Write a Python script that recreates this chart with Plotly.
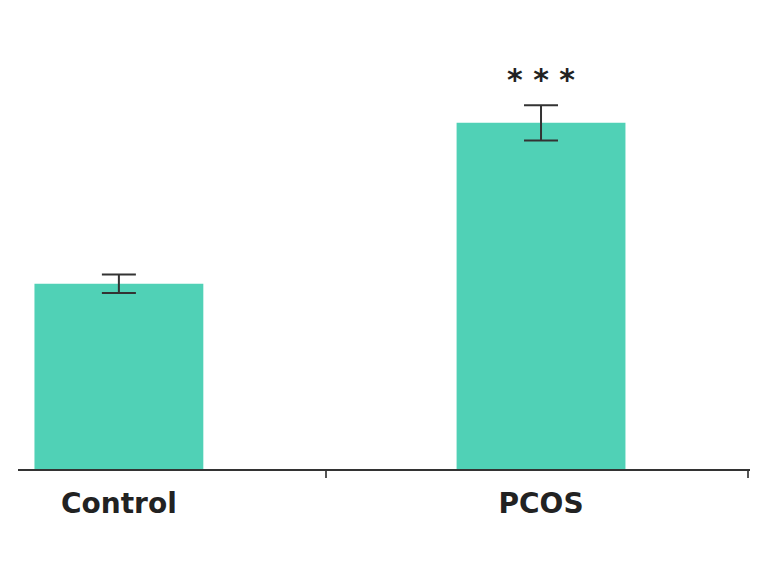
import plotly.graph_objects as go

categories = ["Control", "PCOS"]
values = [1.0, 1.87]
errors = [0.05, 0.095]
significance = ["", "* * *"]

x_pos = list(range(len(categories)))

fig = go.Figure()
fig.add_trace(go.Bar(
    x=x_pos, y=values, width=0.4,
    marker=dict(color="#50d1b6", line=dict(width=0)),
    error_y=dict(type="data", array=errors, visible=True,
                 color="#333333", thickness=2, width=17),
    showlegend=False,
))

for xi, v, e, s in zip(x_pos, values, errors, significance):
    if s:
        fig.add_annotation(x=xi, y=v + e + 0.14, text=s, showarrow=False,
                           font=dict(family="DejaVu Sans", size=30, color="#222222", weight="bold"),
                           yanchor="middle")

fig.update_layout(
    width=750, height=560,
    margin=dict(l=10, r=0, t=0, b=99),
    paper_bgcolor="white", plot_bgcolor="white",
    xaxis=dict(
        range=[-0.239, 1.514],
        tickvals=x_pos, ticktext=categories,
        ticks="", showgrid=False, zeroline=False,
        showline=True, linecolor="#333333", linewidth=2,
        tickfont=dict(family="DejaVu Sans", size=28, color="#222222", weight="bold"),
        ticklabelstandoff=8,
        minor=dict(tickvals=[0.49, 1.49], ticks="outside", ticklen=7,
                   tickcolor="#555555", tickwidth=2, showgrid=False),
    ),
    yaxis=dict(range=[0, 2.49], visible=False, showgrid=False, zeroline=False),
)

fig.write_html("out.html")
